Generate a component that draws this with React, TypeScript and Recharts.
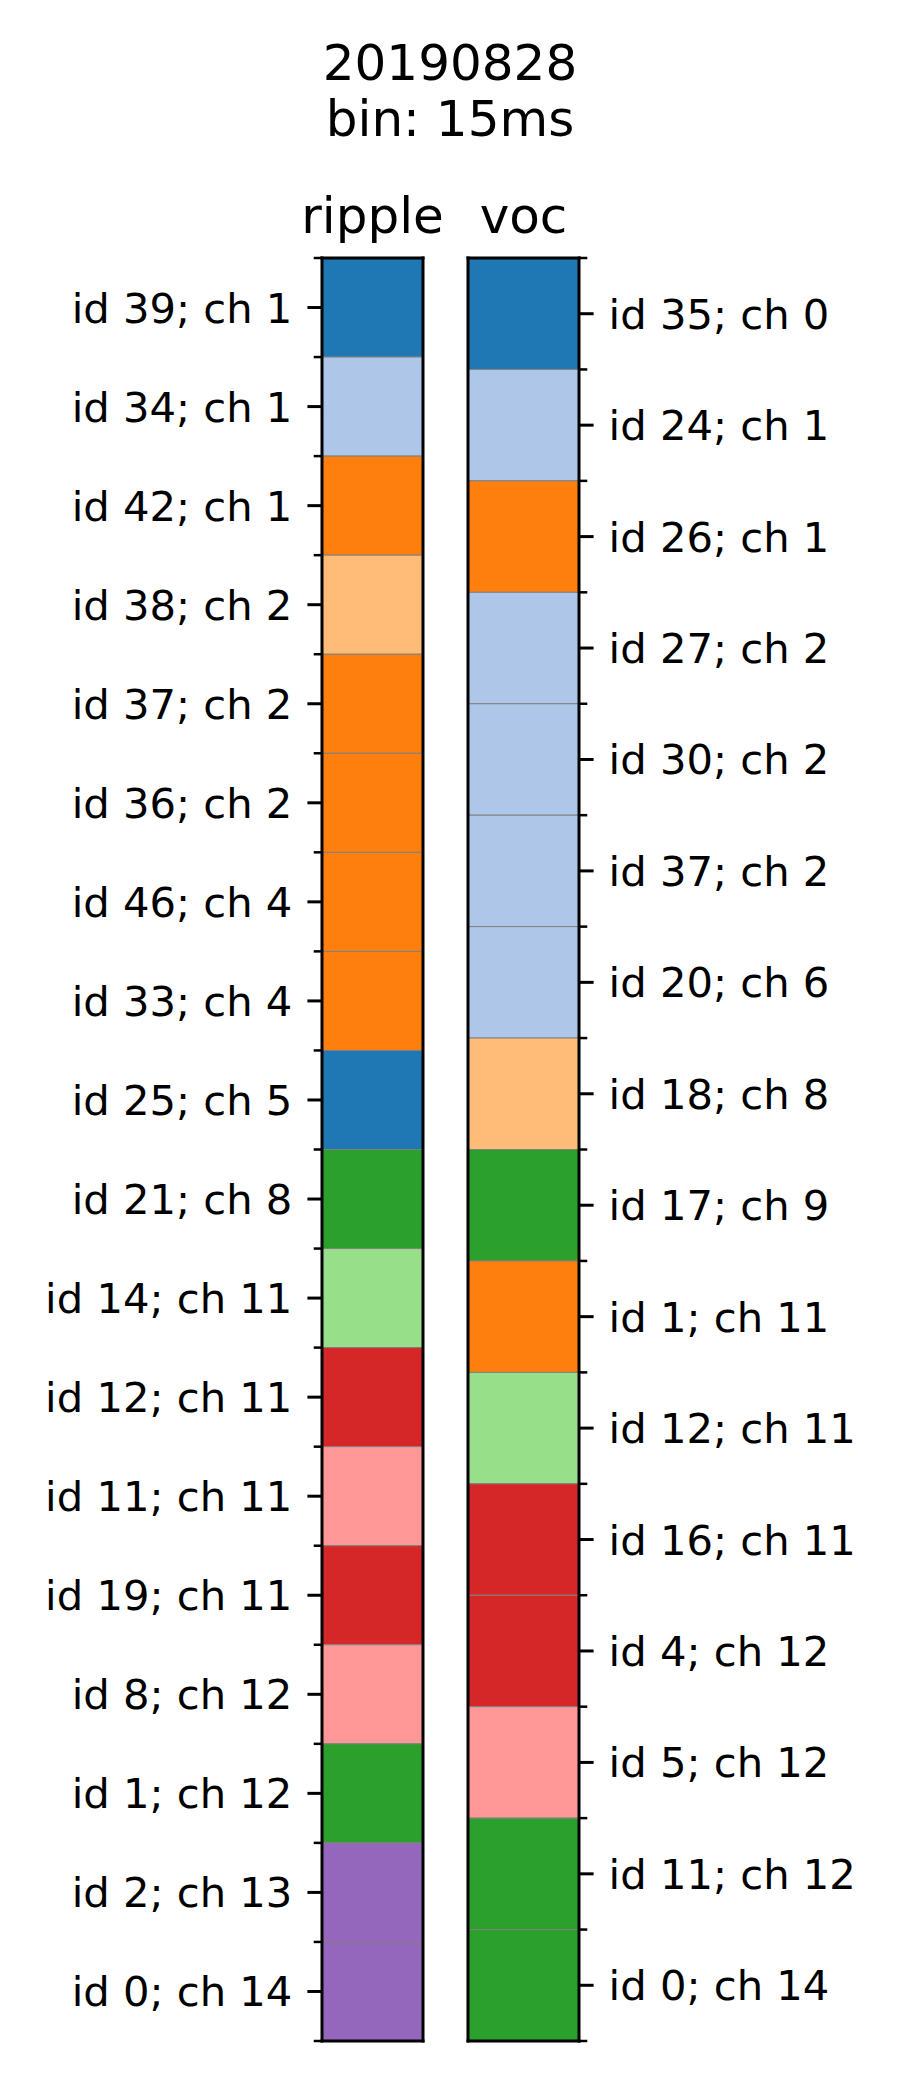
import React from 'react';
import { BarChart, Bar, XAxis, YAxis } from 'recharts';

// tab20 colours used by the cells
const blue = '#1f77b4';
const lightBlue = '#aec7e8';
const orange = '#ff7f0e';
const lightOrange = '#ffbb78';
const green = '#2ca02c';
const lightGreen = '#98df8a';
const red = '#d62728';
const pink = '#ff9896';
const purple = '#9467bd';

const titleLines = ['20190828', 'bin: 15ms'];

const rippleLabels = [
  'id 39; ch 1', 'id 34; ch 1', 'id 42; ch 1', 'id 38; ch 2', 'id 37; ch 2', 'id 36; ch 2',
  'id 46; ch 4', 'id 33; ch 4', 'id 25; ch 5', 'id 21; ch 8', 'id 14; ch 11', 'id 12; ch 11',
  'id 11; ch 11', 'id 19; ch 11', 'id 8; ch 12', 'id 1; ch 12', 'id 2; ch 13', 'id 0; ch 14',
];
const rippleColors = [
  blue, lightBlue, orange, lightOrange, orange, orange,
  orange, orange, blue, green, lightGreen, red,
  pink, red, pink, green, purple, purple,
];

const vocLabels = [
  'id 35; ch 0', 'id 24; ch 1', 'id 26; ch 1', 'id 27; ch 2', 'id 30; ch 2', 'id 37; ch 2',
  'id 20; ch 6', 'id 18; ch 8', 'id 17; ch 9', 'id 1; ch 11', 'id 12; ch 11', 'id 16; ch 11',
  'id 4; ch 12', 'id 5; ch 12', 'id 11; ch 12', 'id 0; ch 14',
];
const vocColors = [
  blue, lightBlue, orange, lightBlue, lightBlue, lightBlue,
  lightBlue, lightOrange, green, orange, lightGreen, red,
  red, pink, green, green,
];

const FONT = '"DejaVu Sans", sans-serif';
const frameLine = { stroke: '#000', strokeWidth: 3, strokeLinecap: 'square' as const };

// draws major ticks (cell centres, with label) and minor ticks (cell edges)
const makeTick = (labels: string[], side: 'left' | 'right') => (props: any) => {
  const { x, y, payload } = props;
  const v = payload.value as number;
  const isMajor = Math.abs(v % 1 - 0.5) < 1e-6;
  const dir = side === 'left' ? -1 : 1;
  const len = isMajor ? 14.6 : 8.3;
  return (
    <g>
      <line x1={x} x2={x + dir * len} y1={y} y2={y} stroke="#000" strokeWidth={isMajor ? 3 : 2.5} />
      {isMajor && (
        <text
          x={x + dir * (len + 15)}
          y={y}
          dy="0.36em"
          textAnchor={side === 'left' ? 'end' : 'start'}
          fontSize={41.7}
          fontFamily={FONT}
          fill="#000"
        >
          {labels[Math.floor(v)]}
        </text>
      )}
    </g>
  );
};

interface ColProps {
  name: string;
  labels: string[];
  colors: string[];
  side: 'left' | 'right';
  left: number;
  margin: { top: number; bottom: number; left: number; right: number };
}

const Column: React.FC<ColProps> = ({ name, labels, colors, side, left, margin }) => {
  const n = labels.length;
  const row: Record<string, any> = { name };
  labels.forEach((_, i) => { row['c' + i] = 1; });
  const ticks = Array.from({ length: 2 * n + 1 }, (_, i) => i / 2);
  const other = side === 'left' ? 'right' : 'left';

  return (
    <div style={{ position: 'absolute', left, top: 0 }}>
      <BarChart width={450} height={2100} data={[row]} margin={margin} barCategoryGap={0} barGap={0}>
        {labels.map((_, i) => (
          <Bar
            key={i}
            xAxisId="top"
            yAxisId="major"
            dataKey={'c' + i}
            stackId="s"
            fill={colors[i]}
            stroke="#808080"
            strokeWidth={1}
            isAnimationActive={false}
          />
        ))}
        <XAxis
          xAxisId="top"
          dataKey="name"
          orientation="top"
          height={1}
          axisLine={frameLine}
          tickLine={false}
          tickSize={0}
          tickMargin={25}
          tick={{ fontSize: 50, fill: '#000', fontFamily: FONT }}
        />
        <XAxis
          xAxisId="bottom"
          dataKey="name"
          orientation="bottom"
          height={1}
          axisLine={frameLine}
          tickLine={false}
          tick={false}
        />
        <YAxis
          yAxisId="major"
          type="number"
          domain={[0, n]}
          allowDataOverflow
          reversed
          orientation={side}
          ticks={ticks}
          interval={0}
          width={300}
          axisLine={frameLine}
          tickSize={0}
          tickMargin={0}
          tickLine={false}
          tick={makeTick(labels, side)}
        />
        <YAxis
          yAxisId="frame"
          type="number"
          domain={[0, n]}
          allowDataOverflow
          orientation={other}
          width={1}
          axisLine={frameLine}
          tickLine={false}
          tick={false}
        />
      </BarChart>
    </div>
  );
};

export default function App() {
  return (
    <div style={{ position: 'absolute', left: 0, top: 0, width: 900, height: 2100, background: '#fff' }}>
      <svg width={900} height={160} style={{ position: 'absolute', left: 0, top: 0 }}>
        {titleLines.map((t, i) => (
          <text key={i} x={450} y={80 + i * 56} textAnchor="middle" fontSize={50} fontFamily={FONT} fill="#000">
            {t}
          </text>
        ))}
      </svg>
      <Column
        name="ripple"
        labels={rippleLabels}
        colors={rippleColors}
        side="left"
        left={0}
        margin={{ top: 257, bottom: 58, left: 22, right: 26 }}
      />
      <Column
        name="voc"
        labels={vocLabels}
        colors={vocColors}
        side="right"
        left={450}
        margin={{ top: 257, bottom: 58, left: 17, right: 21 }}
      />
    </div>
  );
}
